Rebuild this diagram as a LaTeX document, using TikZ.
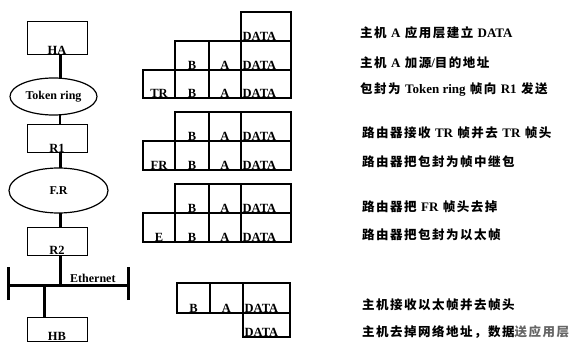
\documentclass[tikz,border=0pt]{standalone}
\usepackage{fontspec}
\setmainfont{Liberation Serif}
\newfontfamily\cjk[LetterSpace=12]{Noto Sans CJK SC}
\newcommand\lt[1]{{\rmfamily\bfseries\fontsize{13}{13}\selectfont #1}}
\usetikzlibrary{shapes.geometric}
\tikzset{
  box/.style={draw, line width=1pt, inner sep=0pt, outer sep=0pt, anchor=north west},
  ring/.style={draw, ellipse, line width=1.2pt, inner sep=0pt, outer sep=0pt, font=\fontsize{12}{12}\selectfont\bfseries},
  link/.style={line width=3pt},
  cell/.style={draw, line width=1.2pt, inner sep=0pt, outer sep=0pt, anchor=north west},
  clab/.style={anchor=south, inner sep=0.5pt, font=\fontsize{12.5}{12}\selectfont\bfseries},
  dlab/.style={anchor=south west, inner sep=0.5pt, font=\fontsize{12.5}{12}\selectfont\bfseries},
  note/.style={anchor=west, inner sep=0pt, font=\cjk\fontsize{12.5}{13}\selectfont\bfseries},
}
\newcommand\pcell[6]{%
  \node[cell, minimum width={(#4-#2)*1pt}, minimum height={(#5-#3)*1pt}] (#1) at (#2,#3) {};
  \node[clab] (#1t) at (#1.south) {#6};}
\newcommand\dcell[5]{%
  \node[cell, minimum width={(#4-#2)*1pt}, minimum height={(#5-#3)*1pt}] (#1) at (#2,#3) {};
  \node[dlab] (#1t) at ([xshift=1pt]#1.south west) {DATA};}
\begin{document}
\begin{tikzpicture}[x=1pt,y=-1pt]
\useasboundingbox (0,0) rectangle (573,342);
% left network column
\node[box, minimum width=60pt, minimum height=33pt] (HA) at (27,22) {};
\node[clab] (HAt) at (HA.south) {HA};
\node[ring, minimum width=87pt, minimum height=37pt] (TK) at (53.5,96.5) {Token ring};
\node[box, minimum width=60pt, minimum height=28pt] (R1) at (27,125) {};
\node[clab] (R1t) at (R1.south) {R1};
\node[ring, minimum width=99pt, minimum height=45pt] (FR) at (58.5,190.5) {F.R};
\node[box, minimum width=60pt, minimum height=28pt] (R2) at (27,227) {};
\node[clab] (R2t) at (R2.south) {R2};
\node[box, minimum width=60pt, minimum height=24pt] (HB) at (27,317) {};
\node[clab] (HBt) at (HB.south) {HB};
\coordinate (busL) at (8,285);
\coordinate (busR) at (128,285);
\coordinate (tap) at (44,285);
\draw[link] ([xshift=3pt]HA.south) -- ([xshift=3pt]HA.south |- TK.north);
\draw[line width=1.5pt] ([xshift=3pt]R1.north |- TK.south) -- ([xshift=3pt]R1.north);
\draw[link] ([xshift=3pt]R1.south) -- ([xshift=3pt]R1.south |- FR.north);
\draw[link] ([xshift=3pt]R2.north |- FR.south) -- ([xshift=3pt]R2.north);
\draw[link] ([xshift=3pt]R2.south) -- ([xshift=3pt]R2.south |- busL);
\draw[link] (busL) -- (busR);
\draw[link] ([yshift=-15pt]busL) -- ([yshift=18pt]busL);
\draw[link] ([yshift=-15pt]busR) -- ([yshift=18pt]busR);
\draw[link] (tap) -- (tap |- HB.north);
\node[anchor=south west, inner sep=0pt, font=\fontsize{12}{12}\selectfont\bfseries] (eth) at (70,283) {Ethernet};
% frames
\dcell{a4}{241}{12}{291}{41}
\pcell{b2}{175}{41}{209}{70}{B}
\pcell{b3}{209}{41}{241}{70}{A}
\dcell{b4}{241}{41}{291}{70}
\pcell{c1}{143}{70}{175}{98}{TR}
\pcell{c2}{175}{70}{209}{98}{B}
\pcell{c3}{209}{70}{241}{98}{A}
\dcell{c4}{241}{70}{291}{98}
\pcell{d2}{175}{112}{209}{141}{B}
\pcell{d3}{209}{112}{241}{141}{A}
\dcell{d4}{241}{112}{291}{141}
\pcell{e1}{143}{141}{175}{170}{FR}
\pcell{e2}{175}{141}{209}{170}{B}
\pcell{e3}{209}{141}{241}{170}{A}
\dcell{e4}{241}{141}{291}{170}
\pcell{f2}{175}{184}{209}{213}{B}
\pcell{f3}{209}{184}{241}{213}{A}
\dcell{f4}{241}{184}{291}{213}
\pcell{g1}{143}{213}{175}{242}{E}
\pcell{g2}{175}{213}{209}{242}{B}
\pcell{g3}{209}{213}{241}{242}{A}
\dcell{g4}{241}{213}{291}{242}
\pcell{h2}{177}{283}{210}{313}{B}
\pcell{h3}{210}{283}{243}{313}{A}
\dcell{h4}{243}{283}{290}{313}
\dcell{i4}{243}{313}{290}{337}
% notes
\node[note] (n1) at (360,33) {主机 \lt{A} 应用层建立 \lt{DATA}};
\node[note] (n2) at (360,63) {主机 \lt{A} 加源\lt{/}目的地址};
\node[note] (n3) at (360,90) {包封为 \lt{Token ring} 帧向 \lt{R1} 发送};
\node[note] (n4) at (362,133) {路由器接收 \lt{TR} 帧并去 \lt{TR} 帧头};
\node[note] (n5) at (362,162) {路由器把包封为帧中继包};
\node[note] (n6) at (362,207) {路由器把 \lt{FR} 帧头去掉};
\node[note] (n7) at (362,235) {路由器把包封为以太帧};
\node[note] (n8) at (362,305) {主机接收以太帧并去帧头};
\node[note] (n9) at (362,332) {主机去掉网络地址，数据{\color{black!60}送应用层}};
\end{tikzpicture}
\end{document}
